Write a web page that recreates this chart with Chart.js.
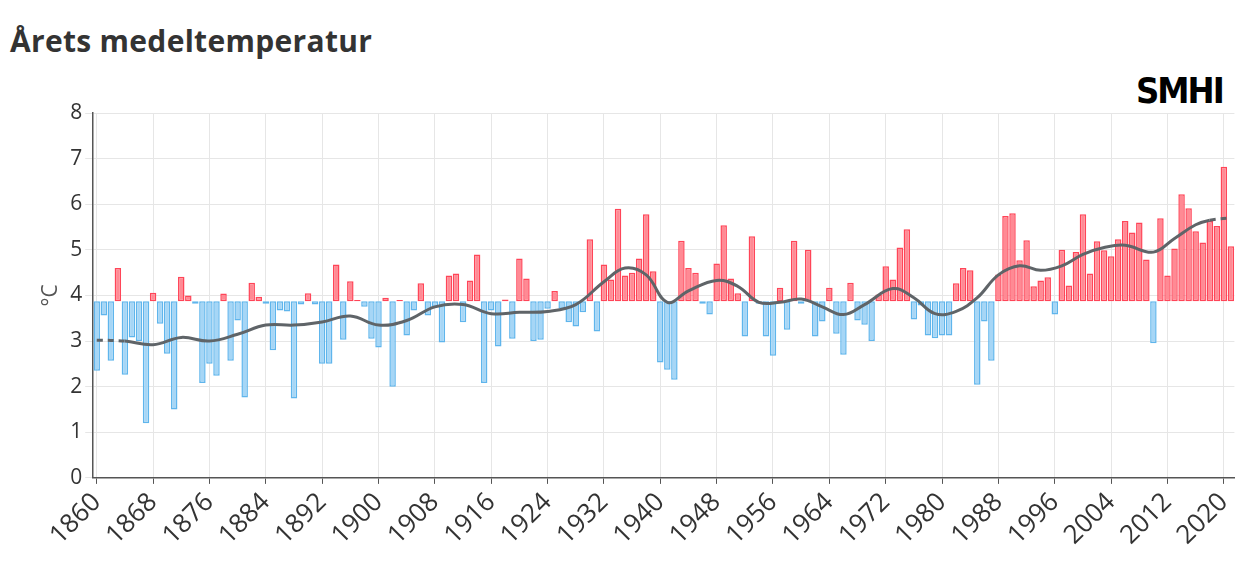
<!DOCTYPE html>
<html>
<head>
<meta charset="utf-8">
<script src="https://cdn.jsdelivr.net/npm/chart.js@4"></script>
<style>
  body { margin: 0; background: #fff; }
  #wrap { position: relative; width: 1256px; height: 581px; }
  h1 { position: absolute; left: 10px; top: 20px; margin: 0; font: bold 30px "Open Sans", sans-serif; color: #333; letter-spacing: 0.3px; }
  #logo { position: absolute; left: 1136px; top: 70px; font: bold 36px "Liberation Sans Narrow", "DejaVu Sans Condensed", sans-serif; color: #000; letter-spacing: -2px; }
  canvas { position: absolute; left: 0; top: 0; }
</style>
</head>
<body>
<div id="wrap">
  <h1>Årets medeltemperatur</h1>
  <div id="logo">SMHI</div>
  <canvas id="chart" width="1256" height="581"></canvas>
</div>
<script>
const baseline = 3.87;
const firstYear = 1860;

const temps = [
  2.35, 3.56, 2.57, 4.6, 2.26, 3.08, 3.0, 1.2, 4.06, 3.38,   // 1860-1869
  2.72, 1.5, 4.41, 4.0, 3.82, 2.08, 2.5, 2.24, 4.04, 2.57,   // 1870-1879
  3.45, 1.76, 4.28, 3.97, 3.82, 2.8, 3.67, 3.65, 1.74, 3.8,  // 1880-1889
  4.05, 3.8, 2.5, 2.5, 4.68, 3.03, 4.31, 3.9, 3.75, 3.05,    // 1890-1899
  2.86, 3.95, 2.0, 3.9, 3.12, 3.67, 4.27, 3.56, 3.75, 2.97,  // 1900-1909
  4.44, 4.48, 3.41, 4.33, 4.9, 2.08, 3.67, 2.88, 3.91, 3.05, // 1910-1919
  4.81, 4.37, 3.0, 3.03, 3.71, 4.1, 3.71, 3.41, 3.32, 3.63,  // 1920-1929
  5.23, 3.21, 4.68, 4.35, 5.9, 4.44, 4.5, 4.81, 5.78, 4.53,  // 1930-1939
  2.53, 2.37, 2.15, 5.2, 4.6, 4.5, 3.82, 3.58, 4.7, 5.54,    // 1940-1949
  4.37, 4.05, 3.1, 5.3, 3.82, 3.1, 2.68, 4.17, 3.25, 5.2,    // 1950-1959
  3.82, 5.0, 3.1, 3.43, 4.17, 3.16, 2.7, 4.28, 3.45, 3.36,   // 1960-1969
  3.0, 4.02, 4.64, 4.35, 5.05, 5.45, 3.47, 3.78, 3.12, 3.06, // 1970-1979
  3.12, 3.12, 4.27, 4.6, 4.55, 2.04, 3.43, 2.57, 4.46, 5.74, // 1980-1989
  5.8, 4.77, 5.21, 4.2, 4.33, 4.4, 3.58, 5.0, 4.22, 4.95,    // 1990-1999
  5.78, 4.48, 5.19, 4.99, 4.86, 5.23, 5.63, 5.38, 5.6, 4.79, // 2000-2009
  2.95, 5.69, 4.44, 5.03, 6.22, 5.91, 5.41, 5.16, 5.63, 5.52, // 2010-2019
  6.82, 5.08                                                  // 2020-2021
];

// smoothed trend at selected years
const trendYears = [1860, 1864, 1868, 1872, 1876, 1880, 1884, 1888, 1892, 1896, 1900, 1904, 1908, 1912, 1916, 1920, 1924, 1928, 1932, 1935, 1938, 1941, 1944, 1948, 1951, 1954, 1957, 1960, 1963, 1966, 1969, 1973, 1976, 1979, 1982, 1985, 1988, 1991, 1994, 1997, 2000, 2003, 2006, 2010, 2013, 2016, 2018, 2021];
const trendValues = [3.02, 3.0, 2.92, 3.08, 3.0, 3.15, 3.35, 3.35, 3.42, 3.55, 3.35, 3.45, 3.75, 3.8, 3.6, 3.63, 3.65, 3.8, 4.3, 4.6, 4.45, 3.85, 4.1, 4.33, 4.2, 3.85, 3.85, 3.92, 3.75, 3.58, 3.8, 4.15, 3.95, 3.6, 3.65, 3.95, 4.45, 4.65, 4.55, 4.65, 4.9, 5.05, 5.1, 4.95, 5.25, 5.55, 5.65, 5.7];

const years = temps.map((_, i) => String(firstYear + i));
const trend = years.map(y => {
  const k = trendYears.indexOf(Number(y));
  return k >= 0 ? trendValues[k] : null;
});

const isTick = (i) => i % 8 === 0;

new Chart(document.getElementById("chart"), {
  data: {
    labels: years,
    datasets: [
      {
        type: "line",
        data: trend,
        spanGaps: true,
        borderColor: "#5f6468",
        borderWidth: 3,
        pointRadius: 0,
        tension: 0.4,
        segment: {
          borderDash: (ctx) => (ctx.p1DataIndex <= 4 || ctx.p0DataIndex >= 158) ? [6, 5] : undefined
        },
        order: 0
      },
      {
        type: "bar",
        data: temps.map(v => [baseline, v]),
        backgroundColor: temps.map(v => v > baseline ? "#ff8a94" : "#a6d6f6"),
        borderColor: temps.map(v => v > baseline ? "#ff4558" : "#5fb5ec"),
        borderWidth: 1.5,
        borderSkipped: false,
        categoryPercentage: 1,
        barPercentage: 0.92,
        order: 1
      }
    ]
  },
  options: {
    responsive: false,
    animation: false,
    layout: { padding: { top: 113, right: 18, left: 34, bottom: 27 } },
    plugins: { legend: { display: false }, tooltip: { enabled: false } },
    scales: {
      x: {
        offset: true,
        grid: {
          offset: false,
          color: (ctx) => (ctx.tick && ctx.tick.label) ? "#e6e6e6" : "rgba(0,0,0,0)",
          tickColor: (ctx) => (ctx.tick && ctx.tick.label) ? "#555" : "rgba(0,0,0,0)",
          tickLength: 6
        },
        border: { color: "#555", width: 1.5 },
        ticks: {
          autoSkip: false,
          maxRotation: 45,
          minRotation: 45,
          color: "#333",
          font: { size: 26, family: "Open Sans" },
          callback: (val, i) => isTick(i) ? years[i] : ""
        }
      },
      y: {
        min: 0,
        max: 8,
        grid: { color: "#e6e6e6" },
        border: { color: "#555", width: 1.5 },
        ticks: { stepSize: 1, color: "#333", font: { size: 21, family: "Open Sans" } },
        title: { display: true, text: "°C", color: "#555", font: { size: 21, family: "Open Sans" } }
      }
    }
  }
});
</script>
</body>
</html>
